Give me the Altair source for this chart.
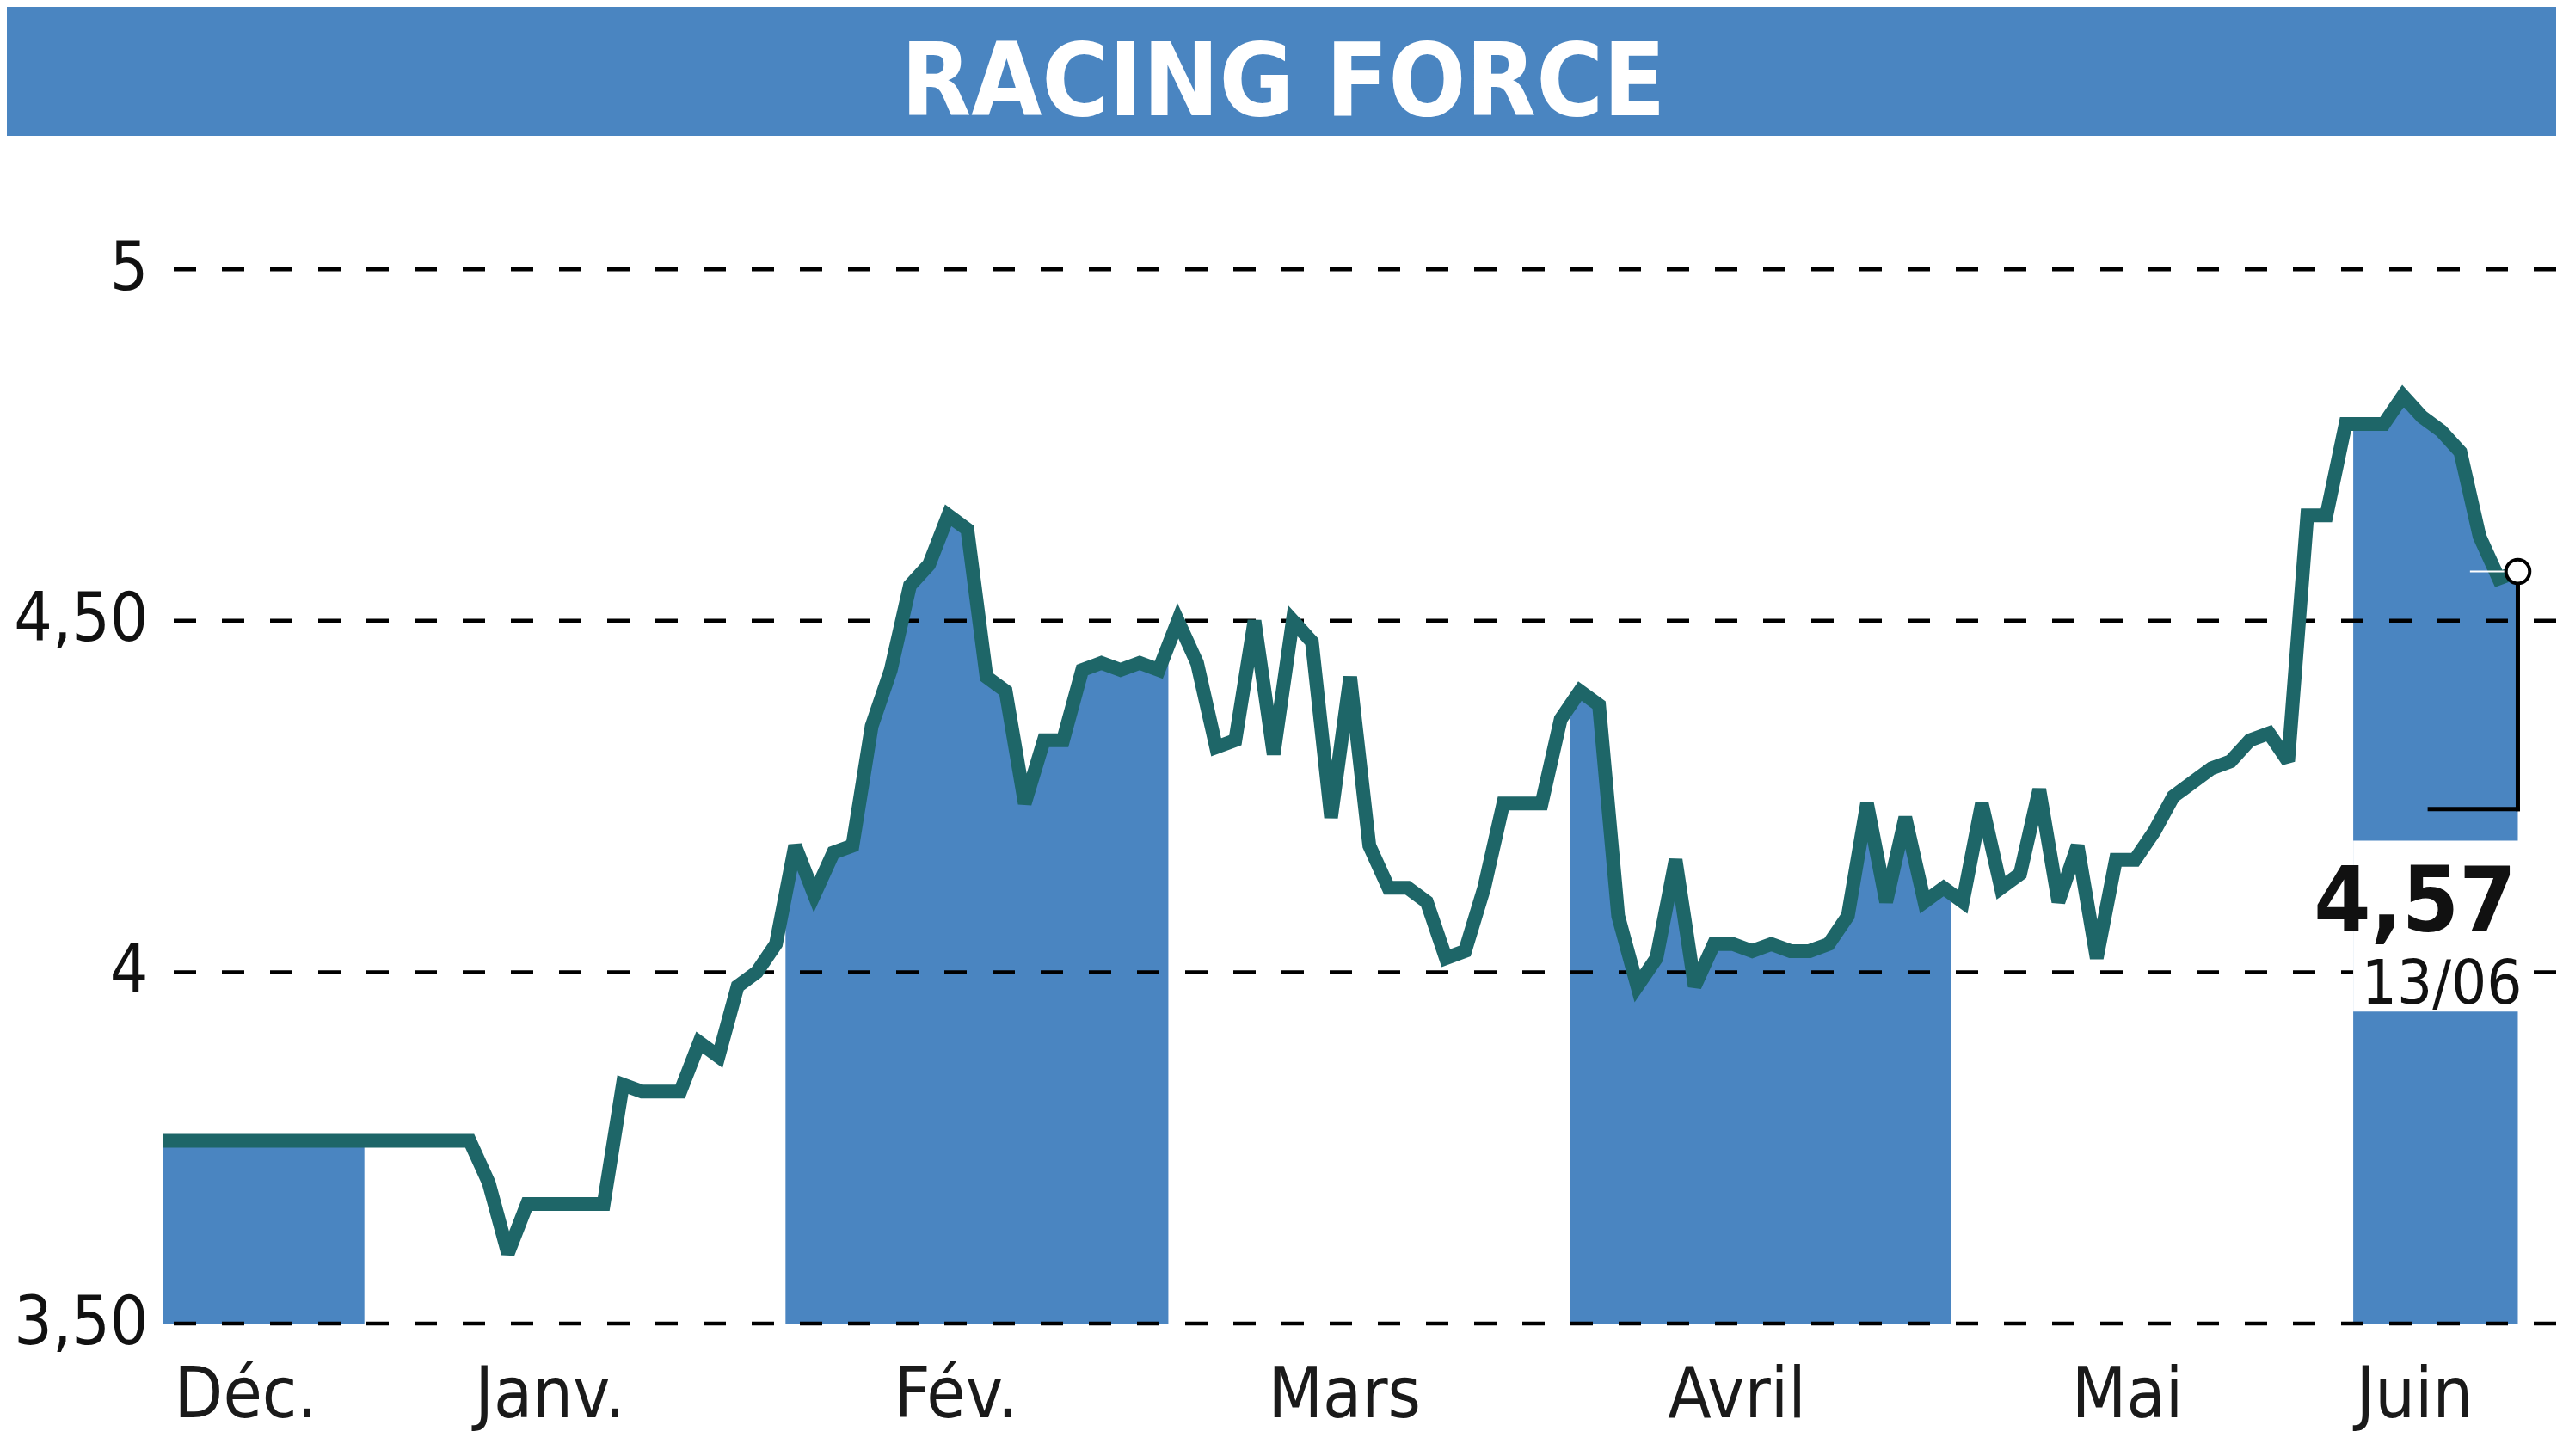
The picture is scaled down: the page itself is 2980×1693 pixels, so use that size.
import altair as alt
import pandas as pd

# ---------------- data ----------------
values = [
    3.76, 3.76, 3.76, 3.76, 3.76, 3.76, 3.76, 3.76, 3.76, 3.76,
    3.76, 3.76, 3.76, 3.76, 3.76, 3.76, 3.76, 3.70, 3.60, 3.67,
    3.67, 3.67, 3.67, 3.67, 3.84, 3.83, 3.83, 3.83, 3.90, 3.88,
    3.98, 4.00, 4.04, 4.18, 4.11, 4.17, 4.18, 4.35, 4.43, 4.55,
    4.58, 4.65, 4.63, 4.42, 4.40, 4.24, 4.33, 4.33, 4.43, 4.44,
    4.43, 4.44, 4.43, 4.50, 4.44, 4.32, 4.33, 4.50, 4.31, 4.50,
    4.47, 4.22, 4.42, 4.18, 4.12, 4.12, 4.10, 4.02, 4.03, 4.12,
    4.24, 4.24, 4.24, 4.36, 4.40, 4.38, 4.08, 3.98, 4.02, 4.16,
    3.98, 4.04, 4.04, 4.03, 4.04, 4.03, 4.03, 4.04, 4.08, 4.24,
    4.10, 4.22, 4.10, 4.12, 4.10, 4.24, 4.12, 4.14, 4.26, 4.10,
    4.18, 4.02, 4.16, 4.16, 4.20, 4.25, 4.27, 4.29, 4.30, 4.33,
    4.34, 4.30, 4.65, 4.65, 4.78, 4.78, 4.78, 4.82, 4.79, 4.77,
    4.74, 4.62, 4.56, 4.57,
]
month_names = ["Déc.", "Janv.", "Fév.", "Mars", "Avril", "Mai", "Juin"]
month_label_pos = [4.3, 20.2, 41.4, 61.7, 82.2, 102.6, 117.6]
# month boundaries (in trading-day index units)
month_edges = [10.5, 32.5, 52.5, 73.5, 93.4, 114.4]
y_ticks = [3.5, 4.0, 4.5, 5.0]
last_label_value = "4,57"
last_label_date = "13/06"
title_text = "RACING FORCE"

# ---------------- styling / layout ----------------
BLUE = "#4a85c1"
LINE = "#1e6668"
FONT = "'Liberation Sans Narrow', 'DejaVu Sans Condensed', sans-serif"
W, H = 2782, 1531
Y_MAX = 3.5 + H / 817.2

df = pd.DataFrame({"i": list(range(len(values))), "v": values})
last_i = len(values) - 1
last_v = values[-1]

xs = alt.Scale(domain=[0, 125], nice=False, zero=False)
ys = alt.Scale(domain=[3.5, Y_MAX], nice=False, zero=False)

yaxis = alt.Axis(
    values=y_ticks,
    labelExpr="datum.value == 5 ? '5' : datum.value == 4 ? '4' : replace(format(datum.value, '.2f'), '.', ',')",
    grid=False, ticks=False, domain=False, title=None,
    labelFont=FONT, labelFontSize=78, labelColor="#111111", labelPadding=18,
    labelLimit=400,
)

area = alt.Chart(df).mark_area(color=BLUE).encode(
    x=alt.X("i:Q", scale=xs, axis=None),
    y=alt.Y("v:Q", scale=ys, axis=yaxis),
    y2=alt.datum(3.5),
)

# white masks for the non shaded months (Janv., Mars, Mai)
mask_df = pd.DataFrame({
    "s": [month_edges[0], month_edges[2], month_edges[4]],
    "e": [month_edges[1], month_edges[3], month_edges[5]],
})
masks = alt.Chart(mask_df).mark_rect(color="white").encode(
    x=alt.X("s:Q", scale=xs), x2="e:Q",
    y=alt.datum(3.5), y2=alt.datum(5.0),
)

grid = alt.Chart(pd.DataFrame({"g": y_ticks})).mark_rule(
    color="black", strokeWidth=4.5, strokeDash=[26, 30]
).encode(y=alt.Y("g:Q", scale=ys))

# white box behind the last value label
box_df = pd.DataFrame({"x1": [month_edges[5]], "x2": [last_i + 0.4], "y1": [3.944], "y2": [4.187]})
box = alt.Chart(box_df).mark_rect(color="white").encode(
    x=alt.X("x1:Q", scale=xs), x2="x2:Q", y=alt.Y("y1:Q", scale=ys), y2="y2:Q"
)

line = alt.Chart(df).mark_line(
    color=LINE, strokeWidth=16, strokeJoin="miter", strokeMiterLimit=3
).encode(x=alt.X("i:Q", scale=xs), y=alt.Y("v:Q", scale=ys))

bracket_df = pd.DataFrame({
    "x1": [last_i, last_i - 4.6],
    "x2": [last_i, last_i],
    "y1": [4.232, 4.232],
    "y2": [last_v - 0.02, 4.232],
})
bracket = alt.Chart(bracket_df).mark_rule(color="black", strokeWidth=5, strokeCap="square").encode(
    x=alt.X("x1:Q", scale=xs), x2="x2:Q", y=alt.Y("y1:Q", scale=ys), y2="y2:Q"
)

tick_df = pd.DataFrame({"x1": [last_i - 2.5], "x2": [last_i - 0.5], "y": [last_v]})
white_tick = alt.Chart(tick_df).mark_rule(color="white", strokeWidth=2).encode(
    x=alt.X("x1:Q", scale=xs), x2="x2:Q", y=alt.Y("y:Q", scale=ys)
)

pt_df = pd.DataFrame({"i": [last_i], "v": [last_v]})
point = alt.Chart(pt_df).mark_point(
    shape="circle", filled=True, fill="white", stroke="black", strokeWidth=4, size=760, opacity=1
).encode(x=alt.X("i:Q", scale=xs), y=alt.Y("v:Q", scale=ys))

val_df = pd.DataFrame({"i": [last_i], "y": [4.058], "t": [last_label_value]})
val_text = alt.Chart(val_df).mark_text(
    font=FONT, fontSize=106, fontWeight="bold", color="#111111", align="right", baseline="alphabetic", dx=-2
).encode(x=alt.X("i:Q", scale=xs), y=alt.Y("y:Q", scale=ys), text="t:N")

date_df = pd.DataFrame({"i": [last_i], "y": [3.955], "t": [last_label_date]})
date_text = alt.Chart(date_df).mark_text(
    font=FONT, fontSize=72, color="#111111", align="right", baseline="alphabetic", dx=5
).encode(x=alt.X("i:Q", scale=xs), y=alt.Y("y:Q", scale=ys), text="t:N")

month_df = pd.DataFrame({"m": month_names, "p": month_label_pos})
months = alt.Chart(month_df).mark_text(
    font=FONT, fontSize=82, color="#1a1a1a", align="center", baseline="alphabetic"
).encode(x=alt.X("p:Q", scale=xs), y=alt.value(1640), text="m:N")

header = alt.Chart(pd.DataFrame({"a": [0]})).mark_rect(color=BLUE).encode(
    x=alt.value(-182), x2=alt.value(W), y=alt.value(0), y2=alt.value(150)
)
title = alt.Chart(pd.DataFrame({"t": [title_text]})).mark_text(
    font=FONT, fontSize=118, fontWeight="bold", color="white", align="center", baseline="alphabetic"
).encode(x=alt.value(1302), y=alt.value(126), text="t:N")

chart = alt.layer(
    area, masks, grid, box, line, bracket, white_tick, point, val_text, date_text, months, header, title
).properties(
    width=W, height=H,
    autosize=alt.AutoSizeParams(type="none"),
    padding={"left": 182, "top": 0, "right": 0, "bottom": 146},
    background="white",
).configure_view(stroke=None)

chart.save("out.html", embed_options={"renderer": "svg", "actions": False})
